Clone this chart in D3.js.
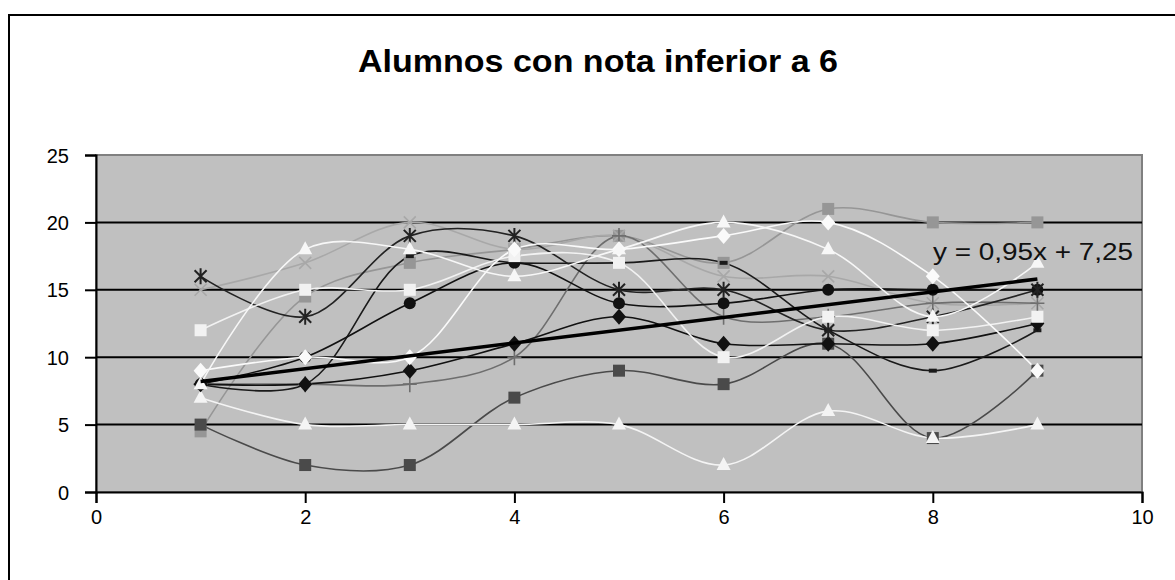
<!DOCTYPE html>
<html>
<head>
<meta charset="utf-8">
<script src="https://cdn.jsdelivr.net/npm/d3@7"></script>
<style>
  body { margin: 0; background: #fff; }
  svg { display: block; font-family: Arial, "Liberation Sans", sans-serif; }
</style>
</head>
<body>
<svg width="1175" height="580"></svg>
<script>
// data
var xValues = [1, 2, 3, 4, 5, 6, 7, 8, 9];
var serieAsterisco = [16, 13, 19, 19, 15, 15, 12, 13, 15];
var serieCruzGris = [15, 17, 20, 18, 19, 16, 16, 14, 14];
var serieCuadroBlanco = [12, 15, 15, 17.5, 17, 10, 13, 12, 13];
var serieRomboBlanco = [9, 10, 10, 18, 18, 19, 20, 16, 9];
var serieTrianguloAlto = [8, 18, 18, 16, 18, 20, 18, 13, 17];
var serieTrianguloBajo = [7, 5, 5, 5, 5, 2, 6, 4, 5];
var serieCuadroOscuro = [5, 2, 2, 7, 9, 8, 11, 4, 9];
var serieCuadroGris = [4.5, 14.5, 17, 18, 19, 17, 21, 20, 20];
var serieRomboNegro = [8, 8, 9, 11, 13, 11, 11, 11, 12.5];
var serieCirculo = [8, 10, 14, 17, 14, 14, 15, 15, 15];
var serieMas = [8, 8, 8, 10, 19, 13, 13, 14, 14];
var serieGuion = [8, 8, 17.5, 17, 17, 17, 12, 9, 12];
var yTicks = [0, 5, 10, 15, 20, 25];
var xTicks = [0, 2, 4, 6, 8, 10];
var trendSlope = 0.95, trendIntercept = 7.25;
var trendLabel = "y = 0,95x + 7,25";
var titulo = "Alumnos con nota inferior a 6";

var series = [
  {v: serieCuadroGris, color: "#969696", marker: "square", fill: "#969696"},
  {v: serieCruzGris, color: "#a8a8a8", marker: "x", fill: "#a8a8a8"},
  {v: serieMas, color: "#6e6e6e", marker: "plus", fill: "#6e6e6e"},
  {v: serieGuion, color: "#1a1a1a", marker: "dash", fill: "#1a1a1a"},
  {v: serieCuadroOscuro, color: "#4a4a4a", marker: "square", fill: "#4a4a4a"},
  {v: serieTrianguloBajo, color: "#f4f4f4", marker: "triangle", fill: "#f4f4f4"},
  {v: serieRomboNegro, color: "#111", marker: "diamond", fill: "#111"},
  {v: serieCirculo, color: "#111", marker: "circle", fill: "#111"},
  {v: serieAsterisco, color: "#222", marker: "star", fill: "#222"},
  {v: serieCuadroBlanco, color: "#f2f2f2", marker: "square", fill: "#f2f2f2"},
  {v: serieRomboBlanco, color: "#fafafa", marker: "diamond", fill: "#fafafa"},
  {v: serieTrianguloAlto, color: "#f7f7f7", marker: "triangle", fill: "#f7f7f7"}
];

var svg = d3.select("svg");
var plot = {left: 96, top: 155, right: 1142, bottom: 492};

// outer chart frame
svg.append("rect")
  .attr("x", 9).attr("y", 15)
  .attr("width", 1200).attr("height", 600)
  .attr("fill", "#fff").attr("stroke", "#000").attr("stroke-width", 2);

svg.append("text")
  .attr("x", 598).attr("y", 72)
  .attr("text-anchor", "middle")
  .attr("textLength", 480).attr("lengthAdjust", "spacingAndGlyphs")
  .style("font-size", "31px").style("font-weight", "bold")
  .text(titulo);

var x = d3.scaleLinear().domain([0, 10]).range([plot.left, plot.right]);
var y = d3.scaleLinear().domain([0, 25]).range([plot.bottom, plot.top]);

// plot area
svg.append("rect")
  .attr("x", plot.left).attr("y", plot.top)
  .attr("width", plot.right - plot.left).attr("height", plot.bottom - plot.top)
  .attr("fill", "#c0c0c0").attr("stroke", "#808080").attr("stroke-width", 2);

// gridlines
svg.append("g").selectAll("line")
  .data(yTicks.filter(function(d){ return d > 0 && d < 25; }))
  .enter().append("line")
  .attr("x1", plot.left).attr("x2", plot.right)
  .attr("y1", function(d){ return y(d); }).attr("y2", function(d){ return y(d); })
  .attr("stroke", "#000").attr("stroke-width", 2);

// axes
var yAxis = svg.append("g")
  .attr("transform", "translate(" + plot.left + ",0)")
  .call(d3.axisLeft(y).tickValues(yTicks).tickSize(11).tickPadding(16).tickFormat(d3.format("d")));
var xAxis = svg.append("g")
  .attr("transform", "translate(0," + plot.bottom + ")")
  .call(d3.axisBottom(x).tickValues(xTicks).tickSize(11).tickPadding(7).tickFormat(d3.format("d")));
[yAxis, xAxis].forEach(function(a){
  a.select(".domain").attr("stroke", "#000").attr("stroke-width", 2);
  a.selectAll(".tick line").attr("stroke", "#000").attr("stroke-width", 2);
  a.selectAll(".tick text").attr("fill", "#000").style("font-size", "20px")
    .style("font-family", "Arial, 'Liberation Sans', sans-serif");
});
yAxis.selectAll(".tick text").attr("dy", "0.35em");

var line = d3.line()
  .x(function(d, i){ return x(xValues[i]); })
  .y(function(d){ return y(d); })
  .curve(d3.curveCatmullRom.alpha(0.5));

var g = svg.append("g");
series.forEach(function(s){
  g.append("path")
    .attr("d", line(s.v))
    .attr("fill", "none")
    .attr("stroke", s.color)
    .attr("stroke-width", 1.6);
});

function drawMarker(sel, type, fill) {
  if (type === "square") {
    sel.append("rect").attr("x", -6).attr("y", -6).attr("width", 12).attr("height", 12).attr("fill", fill);
  } else if (type === "diamond") {
    sel.append("path").attr("d", "M0,-8L7,0L0,8L-7,0Z").attr("fill", fill);
  } else if (type === "triangle") {
    sel.append("path").attr("d", "M0,-8L7,5L-7,5Z").attr("fill", fill);
  } else if (type === "circle") {
    sel.append("circle").attr("r", 6).attr("fill", fill);
  } else if (type === "x") {
    sel.append("path").attr("d", "M-6,-6L6,6M-6,6L6,-6").attr("stroke", fill).attr("stroke-width", 1.6);
  } else if (type === "plus") {
    sel.append("path").attr("d", "M-7,0L7,0M0,-8L0,8").attr("stroke", fill).attr("stroke-width", 1.6);
  } else if (type === "star") {
    sel.append("path").attr("d", "M-6,-6L6,6M-6,6L6,-6M0,-8L0,8").attr("stroke", fill).attr("stroke-width", 2);
  } else if (type === "dash") {
    sel.append("rect").attr("x", -4).attr("y", -2).attr("width", 8).attr("height", 4).attr("fill", fill);
  }
}

series.forEach(function(s){
  var m = g.append("g").selectAll("g")
    .data(s.v).enter().append("g")
    .attr("transform", function(d, i){ return "translate(" + x(xValues[i]) + "," + y(d) + ")"; });
  m.each(function(){ drawMarker(d3.select(this), s.marker, s.fill); });
});

// trend line
svg.append("line")
  .attr("x1", x(1)).attr("y1", y(trendSlope * 1 + trendIntercept))
  .attr("x2", x(9)).attr("y2", y(trendSlope * 9 + trendIntercept))
  .attr("stroke", "#000").attr("stroke-width", 3.5);

svg.append("text")
  .attr("x", 933).attr("y", 260)
  .attr("textLength", 200).attr("lengthAdjust", "spacingAndGlyphs")
  .style("font-size", "23px").attr("fill", "#111")
  .text(trendLabel);
</script>
</body>
</html>
